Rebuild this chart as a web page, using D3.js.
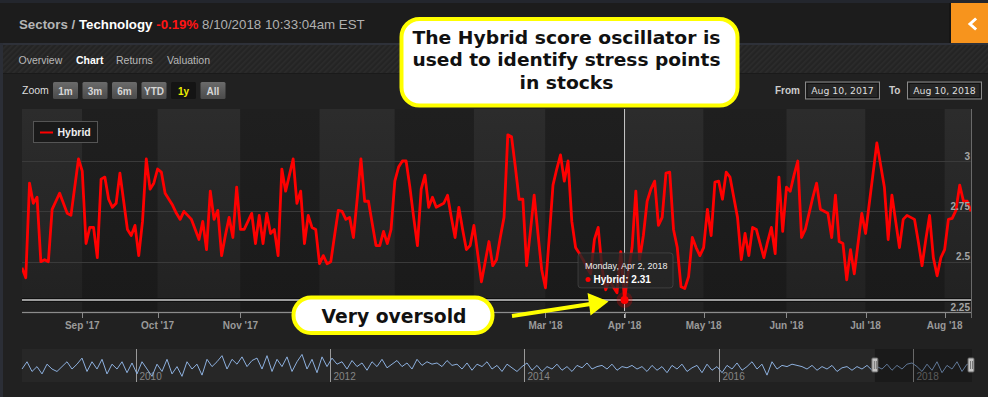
<!DOCTYPE html>
<html><head><meta charset="utf-8">
<script src="https://cdn.jsdelivr.net/npm/d3@7"></script>
<style>
html,body{margin:0;padding:0;background:#202020;overflow:hidden}
svg{display:block}
</style></head><body>
<svg id="c" width="988" height="397"></svg>
<script>
// ---------------- data ----------------
const seriesName = "Hybrid";
const startDate = "2017-08-10";
const endDate = "2018-08-10";
const holidays = ["2017-09-04","2017-11-23","2017-12-25","2018-01-01","2018-01-15","2018-02-19","2018-03-30","2018-05-28","2018-07-04"];
const hybridValues = [
 2.47,2.42,2.89,2.79,2.82,2.50,2.51,2.50,2.76,2.80,
 2.84,2.79,2.74,2.73,2.87,3.01,2.95,2.59,2.67,2.67,
 2.52,2.91,2.92,2.81,2.77,2.79,2.94,2.80,2.66,2.63,
 2.68,2.53,2.70,3.01,2.86,2.89,2.96,2.945,2.84,2.81,
 2.78,2.74,2.71,2.75,2.73,2.71,2.66,2.61,2.70,2.56,
 2.85,2.71,2.755,2.53,2.63,2.72,2.62,2.87,2.66,2.66,
 2.70,2.74,2.59,2.73,2.59,2.74,2.64,2.66,2.53,2.96,
 2.85,2.93,3.01,2.79,2.85,2.59,2.73,2.67,2.66,2.49,
 2.53,2.49,2.50,2.63,2.755,2.75,2.71,2.72,2.62,2.81,
 3.01,2.80,2.80,2.69,2.58,2.58,2.65,2.59,2.66,2.90,
 2.97,3.00,3.00,2.87,2.72,2.58,2.86,2.93,2.77,2.82,
 2.77,2.78,2.79,2.83,2.72,2.62,2.77,2.66,2.56,2.58,
 2.68,2.54,2.40,2.50,2.60,2.48,2.51,2.62,2.72,3.13,
 3.12,2.97,2.81,2.81,2.48,2.65,2.83,2.64,2.46,2.37,
 2.62,2.88,2.96,3.03,2.90,3.00,2.70,2.57,2.54,2.51,
 2.47,2.44,2.61,2.67,2.47,2.36,2.41,2.375,2.345,2.55,
 2.31,2.45,2.57,2.85,2.51,2.63,2.80,2.86,2.90,2.68,
 2.72,2.94,2.945,2.66,2.57,2.375,2.367,2.425,2.62,2.57,
 2.53,2.57,2.76,2.63,2.895,2.90,2.81,2.945,2.92,2.82,
 2.72,2.51,2.64,2.53,2.67,2.66,2.59,2.52,2.60,2.67,
 2.54,2.92,2.65,2.87,2.85,2.93,3.00,2.62,2.66,2.74,
 2.82,2.89,2.76,2.75,2.74,2.62,2.83,2.60,2.59,2.41,
 2.56,2.44,2.59,2.74,2.64,2.79,2.94,3.09,2.98,2.87,
 2.61,2.83,2.70,2.57,2.71,2.73,2.72,2.71,2.60,2.48,
 2.61,2.73,2.52,2.43,2.52,2.56,2.71,2.715,2.755,2.88,
 2.80,2.80,2.75
];
const hoverDate = "2018-04-02";
const yTicks = [2.25, 2.5, 2.75, 3];
// navigator (full history, Oct 2008 - Aug 2018)
const navStart = "2008-10-31";
const navValues = [
 2.6,2.9,2.5,2.7,2.4,2.8,2.6,2.5,2.7,2.9,2.6,2.8,3.05,2.5,2.9,2.6,3.0,2.4,2.8,2.6,2.9,2.45,2.85,
 2.4,2.9,2.6,2.3,2.8,2.5,3.0,2.4,2.7,2.3,2.9,2.6,2.8,2.35,3.0,2.7,2.9,3.15,2.6,3.0,2.8,3.1,2.7,2.95,3.05,2.6,3.15,2.5,3.0,2.7,3.1,2.5,2.9,3.2,2.6,3.0,2.45,3.1,2.7,
 3.05,2.8,2.9,2.6,2.95,2.7,2.85,2.55,2.9,2.7,3.0,2.65,2.8,2.95,2.7,2.85,2.6,3.0,2.75,2.9,2.8,2.85,2.7,2.95,2.75,2.8,2.6,2.85,2.55,2.8,2.7,2.9,2.6,2.75,2.5,2.8,2.65,2.5,2.7,
 2.85,2.55,2.75,2.5,2.7,2.6,2.8,2.55,2.7,2.5,2.75,2.65,2.85,2.6,2.7,2.75,2.6,2.8,2.55,2.7,2.65,2.75,2.6,2.7,2.5,2.75,2.55,2.7,2.45,2.75,2.6,2.8,2.5,2.65,2.75,2.45,2.8,2.55,2.7,
 2.45,2.75,2.6,2.85,2.55,2.7,2.9,2.6,2.8,2.35,2.9,2.6,2.75,2.7,2.8,2.75,2.7,2.6,2.75,2.55,2.7,2.6,2.75,2.5,2.65,2.7,2.55,2.7,2.6,2.75,2.55,2.7,2.6,2.8,2.55,2.75,2.6,2.8,2.85,
 2.7,2.5,2.8,2.55,2.9,2.45,2.75,2.6,2.9,2.5,2.8,2.75
];
const navYears = [2010, 2012, 2014, 2016, 2018];
const tabs = ["Overview","Chart","Returns","Valuation"];
const zoomButtons = ["1m","3m","6m","YTD","1y","All"];
const selectedZoom = "1y";
const headerParts = [["Sectors / ","#b5b5b5","bold"],["Technology ","#ffffff","bold"],["-0.19%","#ff1414","bold"],[" 8/10/2018 10:33:04am EST","#b0b0b0","normal"]];
const calloutTop = ["The Hybrid score oscillator is","used to identify stress points","in stocks"];
const calloutBottom = "Very oversold";

// ---------------- trading calendar ----------------
const pd = d3.utcParse("%Y-%m-%d"), fd = d3.utcFormat("%Y-%m-%d");
const hol = new Set(holidays);
const days = [];
for (let d = pd(startDate); d <= pd(endDate); d = d3.utcDay.offset(d, 1)) {
  const wd = d.getUTCDay();
  if (wd === 0 || wd === 6 || hol.has(fd(d))) continue;
  days.push(d);
}
const data = days.map((d, i) => ({date: d, value: hybridValues[i]})).filter(d => d.value != null);

// ---------------- drawing ----------------
const svg = d3.select("#c");
const defs = svg.append("defs");
const FONT = "'Liberation Sans', Arial, Helvetica, sans-serif";
const VFONT = "'DejaVu Sans', Verdana, sans-serif";

svg.append("rect").attr("width", 988).attr("height", 397).attr("fill", "#212121");
// header
svg.append("rect").attr("width", 988).attr("height", 43).attr("fill", "#1c1c1c");
svg.append("rect").attr("width", 988).attr("height", 3).attr("fill", "#23262d");
svg.append("rect").attr("y", 43).attr("width", 988).attr("height", 2).attr("fill", "#2e3139");
svg.append("rect").attr("y", 43).attr("width", 3).attr("height", 354).attr("fill", "#2b2e36");
// hatched tab bar
const hatch = defs.append("pattern").attr("id", "hatch").attr("width", 4).attr("height", 4)
  .attr("patternUnits", "userSpaceOnUse").attr("patternTransform", "rotate(45)");
hatch.append("rect").attr("width", 4).attr("height", 4).attr("fill", "#242424");
hatch.append("rect").attr("width", 1.6).attr("height", 4).attr("fill", "#2c2c2c");
svg.append("rect").attr("x", 3).attr("y", 45).attr("width", 985).attr("height", 28).attr("fill", "url(#hatch)");
svg.append("rect").attr("x", 3).attr("y", 73).attr("width", 985).attr("height", 1).attr("fill", "#1a1a1a");

const ht = svg.append("text").attr("x", 19).attr("y", 29).attr("font-family", FONT).attr("font-size", 13.3).attr("style", "white-space:pre");
headerParts.forEach(p => ht.append("tspan").text(p[0]).attr("fill", p[1]).attr("font-weight", p[2]));

// orange button
svg.append("rect").attr("x", 951).attr("y", 3).attr("width", 37).attr("height", 40).attr("fill", "#f7941d");
svg.append("rect").attr("x", 949).attr("y", 3).attr("width", 2).attr("height", 40).attr("fill", "#151515");
svg.append("path").attr("d", "M975,19.5 L970,24 L975,28.5").attr("fill", "none").attr("stroke", "#fff").attr("stroke-width", 3).attr("stroke-linecap","square");

// tabs
const tabX = [18.5, 76, 116, 167];
tabs.forEach((t, i) => svg.append("text").attr("x", tabX[i]).attr("y", 64).text(t)
  .attr("font-family", FONT).attr("font-size", 10.5)
  .attr("font-weight", t === "Chart" ? "bold" : "normal")
  .attr("fill", t === "Chart" ? "#ffffff" : "#b8b8b8"));

// zoom buttons
svg.append("text").attr("x", 22).attr("y", 94).text("Zoom").attr("font-family", FONT).attr("font-size", 10.5).attr("fill", "#dddddd");
const bg = defs.append("linearGradient").attr("id", "btn").attr("x1", 0).attr("y1", 0).attr("x2", 0).attr("y2", 1);
bg.append("stop").attr("offset", 0).attr("stop-color", "#6b6b6b");
bg.append("stop").attr("offset", 1).attr("stop-color", "#4a4a4a");
zoomButtons.forEach((b, i) => {
  const bx = 53 + i * 29.5, sel = b === selectedZoom;
  svg.append("rect").attr("x", bx).attr("y", 82).attr("width", 25).attr("height", 17).attr("rx", 1.5)
    .attr("fill", sel ? "#141414" : "url(#btn)");
  svg.append("text").attr("x", bx + 12.5).attr("y", 94.5).attr("text-anchor", "middle").text(b)
    .attr("font-family", FONT).attr("font-size", 10).attr("font-weight", "bold")
    .attr("fill", sel ? "#f0f000" : "#d6d6d6");
});
// from / to inputs
const fmtInput = d3.utcFormat("%b %-d, %Y");
[["From", 775, 805.5, startDate], ["To", 889, 907.5, endDate]].forEach(([lab, lx, bx, dt]) => {
  svg.append("text").attr("x", lx).attr("y", 94).text(lab).attr("font-family", FONT).attr("font-size", 10)
    .attr("font-weight", "bold").attr("fill", "#cccccc");
  svg.append("rect").attr("x", bx).attr("y", 82).attr("width", 74).attr("height", 17).attr("fill", "#262626")
    .attr("stroke", "#8a8a8a").attr("stroke-width", 1);
  svg.append("rect").attr("x", bx + 1.5).attr("y", 83.5).attr("width", 71).attr("height", 14).attr("fill", "none")
    .attr("stroke", "#111").attr("stroke-width", 1);
  svg.append("text").attr("x", bx + 37).attr("y", 94.2).attr("text-anchor", "middle").text(fmtInput(pd(dt)))
    .attr("font-family", VFONT).attr("font-size", 9.3).attr("fill", "#dddddd");
});

// ---------------- main plot ----------------
const plotL = 22, plotR = 971, plotT = 109, plotB = 312;
const x = d3.scaleLinear().domain([0, days.length - 1]).range([plotL, plotR]);
const y = d3.scaleLinear().domain([2.25, 3]).range([plotB, 161]);

const tickIdx = days.map((d, i) => i).filter(i => i > 0 && days[i].getUTCMonth() !== days[i - 1].getUTCMonth());
const edges = [0, ...tickIdx, days.length - 1];

function grad(id, c0, c1) {
  const g = defs.append("linearGradient").attr("id", id).attr("x1", 0).attr("y1", 0).attr("x2", 0).attr("y2", 1);
  g.append("stop").attr("offset", 0).attr("stop-color", c0);
  g.append("stop").attr("offset", 1).attr("stop-color", c1);
}
grad("light", "#2c2c2c", "#212121");
grad("dark", "#1f1f1f", "#1a1a1a");
svg.append("rect").attr("x", plotL).attr("y", plotT).attr("width", plotR - plotL).attr("height", plotB - plotT).attr("fill", "#1c1c1c");
for (let i = 0; i < edges.length - 1; i++) {
  svg.append("rect").attr("x", x(edges[i])).attr("y", plotT).attr("width", x(edges[i + 1]) - x(edges[i]))
    .attr("height", plotB - plotT).attr("fill", i % 2 === 0 ? "url(#light)" : "url(#dark)");
}
// grid
yTicks.filter(v => v > 2.25).forEach(v => svg.append("line").attr("x1", plotL).attr("x2", plotR)
  .attr("y1", Math.round(y(v)) + 0.5).attr("y2", Math.round(y(v)) + 0.5).attr("stroke", "#3a3a3a"));

// clip
defs.append("clipPath").attr("id", "pc").append("rect").attr("x", plotL).attr("y", plotT).attr("width", plotR - plotL + 1).attr("height", plotB - plotT);

// crosshairs
const hi = days.findIndex(d => fd(d) === hoverDate);
const hx = x(hi), hy = y(hybridValues[hi]);
svg.append("line").attr("x1", hx).attr("x2", hx).attr("y1", plotT).attr("y2", plotB + 6).attr("stroke", "#c8c8c8").attr("stroke-width", 1);

// line
const line = d3.line().x(d => x(days.indexOf(d.date))).y(d => y(d.value));
svg.append("path").datum(data).attr("d", line).attr("fill", "none").attr("stroke", "#ff0000")
  .attr("stroke-width", 2.8).attr("stroke-linejoin", "round").attr("clip-path", "url(#pc)");

// horizontal crosshair
svg.append("line").attr("x1", plotL).attr("x2", plotR).attr("y1", hy).attr("y2", hy).attr("stroke", "#0f0f0f").attr("stroke-width", 4);
svg.append("line").attr("x1", plotL).attr("x2", plotR).attr("y1", hy).attr("y2", hy).attr("stroke", "#9c9c9c").attr("stroke-width", 2);

// callout box for bottom annotation (used to hide covered labels)
const cb = {x: 293.5, y: 297.5, w: 199, h: 35.5};

// x axis
svg.append("line").attr("x1", plotL).attr("x2", plotR).attr("y1", plotB + 0.5).attr("y2", plotB + 0.5).attr("stroke", "#0f0f0f").attr("stroke-width", 3);
svg.append("line").attr("x1", plotL).attr("x2", plotR).attr("y1", plotB + 0.5).attr("y2", plotB + 0.5).attr("stroke", "#8c8c8c").attr("stroke-width", 1.5);
const fmtTick = d3.utcFormat("%b '%y");
tickIdx.forEach(i => {
  svg.append("line").attr("x1", Math.round(x(i)) + 0.5).attr("x2", Math.round(x(i)) + 0.5).attr("y1", plotB).attr("y2", plotB + 6).attr("stroke", "#8a8a8a");
  const hidden = x(i) > cb.x - 20 && x(i) < cb.x + cb.w + 20;
  if (!hidden) svg.append("text").attr("x", x(i)).attr("y", 328.5).attr("text-anchor", "middle").text(fmtTick(days[i]))
    .attr("font-family", FONT).attr("font-size", 10).attr("font-weight", "bold").attr("fill", "#9a9a9a");
});
// plot right border
svg.append("line").attr("x1", plotR + 0.5).attr("x2", plotR + 0.5).attr("y1", plotT).attr("y2", plotB + 6).attr("stroke", "#6a6a6a");
// y labels
yTicks.forEach(v => svg.append("text").attr("x", plotR - 1).attr("y", y(v) - 1.5).attr("text-anchor", "end")
  .text(v).attr("font-family", FONT).attr("font-size", 10).attr("font-weight", "bold").attr("fill", "#a5a5a5"));

// legend
svg.append("rect").attr("x", 33.5).attr("y", 121.5).attr("width", 64).attr("height", 21).attr("fill", "#1a1a1a")
  .attr("stroke", "#555").attr("stroke-width", 1);
svg.append("line").attr("x1", 40).attr("x2", 53).attr("y1", 132.5).attr("y2", 132.5).attr("stroke", "#ff0000").attr("stroke-width", 2);
svg.append("text").attr("x", 57.5).attr("y", 136).text(seriesName).attr("font-family", FONT).attr("font-size", 10.5)
  .attr("font-weight", "bold").attr("fill", "#eeeeee");

// marker
svg.append("circle").attr("cx", hx).attr("cy", hy).attr("r", 8).attr("fill", "rgba(255,0,0,0.25)");
svg.append("circle").attr("cx", hx).attr("cy", hy).attr("r", 4).attr("fill", "#ff0000");

// tooltip
const tt = svg.append("g").attr("transform", `translate(${hx - 46.5},${hy - 47})`);
tt.append("rect").attr("width", 95).attr("height", 35).attr("rx", 3).attr("fill", "rgba(38,38,38,0.8)").attr("stroke", "rgba(90,90,90,0.5)");
tt.append("text").attr("x", 7).attr("y", 16).text(d3.utcFormat("%A, %b %-d, %Y")(days[hi]))
  .attr("font-family", FONT).attr("font-size", 9).attr("fill", "#eeeeee");
tt.append("circle").attr("cx", 10).attr("cy", 26.5).attr("r", 2.5).attr("fill", "#ff0000");
const t2 = tt.append("text").attr("x", 15.5).attr("y", 30).attr("font-family", FONT).attr("font-size", 10).attr("font-weight", "bold").attr("fill", "#ffffff");
t2.append("tspan").text(seriesName + ": ");
t2.append("tspan").text(hybridValues[hi].toFixed(2));

// ---------------- navigator ----------------
const navL = 22, navR = 972, navT = 349, navB = 382;
svg.append("rect").attr("x", navL).attr("y", navT).attr("width", navR - navL).attr("height", navB - navT).attr("fill", "#272727");
const nt = d3.scaleUtc().domain([pd(navStart), pd(endDate)]).range([navL, navR]);
const nx = d3.scaleLinear().domain([0, navValues.length - 1]).range([navL, navR]);
const ny = d3.scaleLinear().domain([2.15, 3.3]).range([navB - 2, navT + 3]);
navYears.forEach(yr => {
  const px = Math.round(nt(new Date(Date.UTC(yr, 0, 1)))) + 0.5;
  svg.append("line").attr("x1", px).attr("x2", px).attr("y1", navT).attr("y2", navB).attr("stroke", "#9a9a9a");
  svg.append("text").attr("x", px + 3).attr("y", 379.5).text(yr).attr("font-family", FONT).attr("font-size", 10)
    .attr("fill", "#858585");
});
svg.append("path").datum(navValues).attr("d", d3.line().x((d, i) => nx(i)).y(d => ny(d)))
  .attr("fill", "none").attr("stroke", "#8db0de").attr("stroke-width", 1);
const mx0 = nt(pd(startDate)), mx1 = nt(pd(endDate));
svg.append("rect").attr("x", mx0).attr("y", navT).attr("width", mx1 - mx0).attr("height", navB - navT).attr("fill", "rgba(0,0,0,0.32)");
[mx0, mx1 - 1].forEach(hxp => {
  svg.append("rect").attr("x", hxp - 3).attr("y", 358).attr("width", 6).attr("height", 14).attr("rx", 1)
    .attr("fill", "#c4c4c4").attr("stroke", "#666");
  svg.append("line").attr("x1", hxp - 0.5).attr("x2", hxp - 0.5).attr("y1", 361).attr("y2", 369).attr("stroke", "#777");
  svg.append("line").attr("x1", hxp + 1.5).attr("x2", hxp + 1.5).attr("y1", 361).attr("y2", 369).attr("stroke", "#777");
});

// ---------------- annotations ----------------
const YEL = "#ffff00";
svg.append("rect").attr("x", 401.5).attr("y", 19).attr("width", 336).attr("height", 86.5).attr("rx", 18)
  .attr("fill", "#ffffff").attr("stroke", YEL).attr("stroke-width", 4);
const topLen = [308, 308, 94];
calloutTop.forEach((s, i) => svg.append("text").attr("x", 566.5).attr("y", 43.5 + i * 22.8).attr("text-anchor", "middle")
  .text(s).attr("font-family", VFONT).attr("font-weight", "bold").attr("font-size", 17.6).attr("fill", "#111")
  .attr("textLength", topLen[i]).attr("lengthAdjust", "spacingAndGlyphs"));

svg.append("rect").attr("x", cb.x).attr("y", cb.y).attr("width", cb.w).attr("height", cb.h).attr("rx", 17.5)
  .attr("fill", "#ffffff").attr("stroke", YEL).attr("stroke-width", 4);
svg.append("text").attr("x", 394).attr("y", 323).attr("text-anchor", "middle").text(calloutBottom)
  .attr("font-family", VFONT).attr("font-weight", "bold").attr("font-size", 20).attr("fill", "#111")
  .attr("textLength", 145).attr("lengthAdjust", "spacingAndGlyphs");

// arrow to oversold point
const tipX = hx - 16, tipY = hy + 1.5;
svg.append("line").attr("x1", 512).attr("y1", 316).attr("x2", tipX - 18).attr("y2", tipY + 2.5)
  .attr("stroke", YEL).attr("stroke-width", 4);
svg.append("path").attr("d", `M${tipX},${tipY} L${tipX - 21},${tipY - 8.5} L${tipX - 18},${tipY + 14} Z`).attr("fill", YEL);
</script>
</body></html>
